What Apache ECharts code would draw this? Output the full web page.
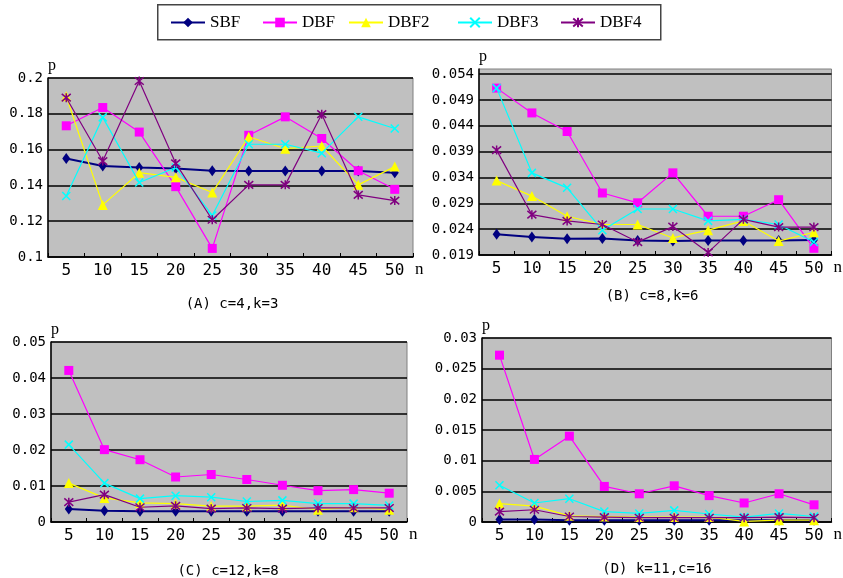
<!DOCTYPE html>
<html><head><meta charset="utf-8">
<script src="https://cdn.jsdelivr.net/npm/echarts@6/dist/echarts.min.js"></script>
<style>html,body{margin:0;padding:0;background:#fff}#c{width:843px;height:578px}</style>
</head><body><div id="c"></div>
<script>
const categories = ['5','10','15','20','25','30','35','40','45','50'];
const seriesNames = ['SBF','DBF','DBF2','DBF3','DBF4'];

// Panel A: c=4, k=3
const sbfA  = [0.155, 0.1508, 0.150, 0.1495, 0.1482, 0.148, 0.148, 0.148, 0.148, 0.147];
const dbfA  = [0.1733, 0.1835, 0.1698, 0.1393, 0.1048, 0.168, 0.1783, 0.1662, 0.1482, 0.1378];
const dbf2A = [0.1898, 0.1291, 0.1471, 0.1445, 0.136, 0.1672, 0.1605, 0.162, 0.1403, 0.1505];
const dbf3A = [0.1341, 0.178, 0.1416, 0.150, 0.1232, 0.163, 0.163, 0.158, 0.1783, 0.1718];
const dbf4A = [0.189, 0.1536, 0.1983, 0.1523, 0.1208, 0.1403, 0.1403, 0.1798, 0.1347, 0.1315];

// Panel B: c=8, k=6
const sbfB  = [0.0230, 0.02247, 0.02215, 0.0222, 0.0218, 0.0217, 0.0218, 0.0218, 0.0218, 0.0219];
const dbfB  = [0.0513, 0.0465, 0.0429, 0.0310, 0.0291, 0.0349, 0.0265, 0.0265, 0.0297, 0.0203];
const dbf2B = [0.0334, 0.0304, 0.0265, 0.0249, 0.0249, 0.0223, 0.0238, 0.0256, 0.0217, 0.0234];
const dbf3B = [0.0513, 0.0349, 0.0320, 0.0238, 0.0279, 0.0279, 0.0256, 0.0259, 0.0249, 0.0215];
const dbf4B = [0.0393, 0.0268, 0.0256, 0.0249, 0.0215, 0.0245, 0.0195, 0.0259, 0.0244, 0.0244];

// Panel C: c=12, k=8
const sbfC  = [0.0036, 0.0031, 0.003, 0.003, 0.003, 0.003, 0.003, 0.003, 0.003, 0.003];
const dbfC  = [0.0421, 0.0201, 0.0173, 0.0125, 0.0132, 0.0118, 0.0102, 0.0087, 0.009, 0.008];
const dbf2C = [0.0108, 0.0067, 0.0053, 0.0051, 0.0044, 0.0044, 0.0047, 0.0034, 0.0041, 0.0034];
const dbf3C = [0.0215, 0.0108, 0.0065, 0.0073, 0.0069, 0.0057, 0.006, 0.0051, 0.0051, 0.0046];
const dbf4C = [0.0055, 0.0076, 0.0041, 0.0045, 0.0037, 0.0039, 0.0037, 0.0039, 0.0039, 0.0039];

// Panel D: k=11, c=16
const sbfD  = [0.0004, 0.0004, 0.0003, 0.0003, 0.0003, 0.0003, 0.0003, 0.0003, 0.0003, 0.0003];
const dbfD  = [0.0272, 0.0102, 0.014, 0.0058, 0.0046, 0.0059, 0.0043, 0.0031, 0.0046, 0.0028];
const dbf2D = [0.003, 0.0026, 0.001, 0.0009, 0.0008, 0.0008, 0.0008, 0.0001, 0.0003, 0.0003];
const dbf3D = [0.006, 0.0031, 0.0038, 0.0017, 0.0014, 0.0019, 0.0013, 0.0008, 0.0014, 0.0009];
const dbf4D = [0.0017, 0.002, 0.0009, 0.0008, 0.0007, 0.0007, 0.0007, 0.0007, 0.0008, 0.0007];

const captions = ['(A) c=4,k=3', '(B) c=8,k=6', '(C) c=12,k=8', '(D) k=11,c=16'];

const panelData = [
  [sbfA, dbfA, dbf2A, dbf3A, dbf4A],
  [sbfB, dbfB, dbf2B, dbf3B, dbf4B],
  [sbfC, dbfC, dbf2C, dbf3C, dbf4C],
  [sbfD, dbfD, dbf2D, dbf3D, dbf4D]
];

const panels = [
  {grid:{left:48, top:78, width:365, height:179}, y:{min:0.1, max:0.2, interval:0.02}, cap:[227, 292]},
  {grid:{left:479, top:69, width:362, height:186}, y:{min:0.019, max:0.055, interval:0.005, hideMax:true}, cap:[647, 284]},
  {grid:{left:51, top:342, width:356, height:180}, y:{min:0, max:0.05, interval:0.01}, cap:[223, 559]},
  {grid:{left:482, top:338, width:351, height:184}, y:{min:0, max:0.03, interval:0.005}, cap:[652, 557]}
];

const styles = [
  {color:'#000080', symbol:'diamond', size:[8,11], width:2},
  {color:'#FF00FF', symbol:'rect', size:9, width:1.2},
  {color:'#FFFF00', symbol:'triangle', size:10, width:1.2},
  {color:'#00FFFF', symbol:'path://M0,0L10,10M10,0L0,10', size:8, width:1.2, stroke:true},
  {color:'#800080', symbol:'path://M0,0L10,10M10,0L0,10M5,-1L5,11', size:9, width:1.2, stroke:true}
];

const grids = [], xAxes = [], yAxes = [], series = [], titles = [];
panels.forEach((p, i) => {
  grids.push(Object.assign({show:true, backgroundColor:'#C0C0C0', borderColor:'#808080', borderWidth:1}, p.grid));
  xAxes.push({
    type:'category', gridIndex:i, data:categories, boundaryGap:true,
    name:'n', nameLocation:'end', nameGap:2,
    nameTextStyle:{color:'#000', fontFamily:'Liberation Serif', fontSize:17, verticalAlign:'top', padding:[4,0,0,0]},
    axisLine:{lineStyle:{color:'#000', width:1.5}},
    axisTick:{show:true, inside:true, length:4, lineStyle:{color:'#000', width:1}},
    axisLabel:{color:'#000', fontFamily:'DejaVu Sans Mono', fontSize:16, margin:6},
    splitLine:{show:false}
  });
  yAxes.push({
    type:'value', gridIndex:i, min:p.y.min, max:p.y.max, interval:p.y.interval,
    name:'p', nameLocation:'end', nameGap:4,
    nameTextStyle:{color:'#000', fontFamily:'Liberation Serif', fontSize:16, align:'left', padding:[0,0,0,0]},
    axisLine:{show:true, lineStyle:{color:'#000', width:1.5}},
    axisTick:{show:false},
    axisLabel:{color:'#000', fontFamily:'DejaVu Sans Mono', fontSize:14, margin:5, showMaxLabel: !p.y.hideMax},
    splitLine:{show:true, showMaxLine: !p.y.hideMax, lineStyle:{color:'#000', width:1.5}}
  });
  titles.push({
    text:captions[i], left:p.cap[0], top:p.cap[1], textAlign:'center',
    textStyle:{color:'#000', fontFamily:'DejaVu Sans Mono', fontSize:14, fontWeight:'normal'}
  });
  panelData[i].forEach((vals, s) => {
    const st = styles[s];
    series.push({
      type:'line', name:seriesNames[s], xAxisIndex:i, yAxisIndex:i, data:vals,
      symbol:st.symbol, symbolSize:st.size, showAllSymbol:true,
      lineStyle:{color:st.color, width:st.width},
      itemStyle: st.stroke ? {color:st.color, borderColor:st.color, borderWidth:1.5} : {color:st.color, borderColor:st.color, borderWidth:0},
      emphasis:{disabled:true}, animation:false, z: 2 + s
    });
  });
});

const legendLefts = [170, 262, 348, 457, 560];
const legends = seriesNames.map((n, k) => ({
  data:[n], left:legendLefts[k], top:14, itemWidth:34, itemHeight:12, itemGap:0, padding:0,
  textStyle:{color:'#000', fontFamily:'Liberation Serif', fontSize:17, padding:[2,0,0,0]},
  selectedMode:false
}));

const chart = echarts.init(document.getElementById('c'), null, {renderer:'canvas'});
chart.setOption({
  animation:false,
  backgroundColor:'#fff',
  title:titles,
  legend:legends,
  grid:grids, xAxis:xAxes, yAxis:yAxes, series:series,
  graphic:[{type:'rect', left:157, top:4, shape:{width:503, height:35}, style:{fill:'#fff', stroke:'#444', lineWidth:1.5}, z:-10, silent:true}]
});
</script></body></html>
